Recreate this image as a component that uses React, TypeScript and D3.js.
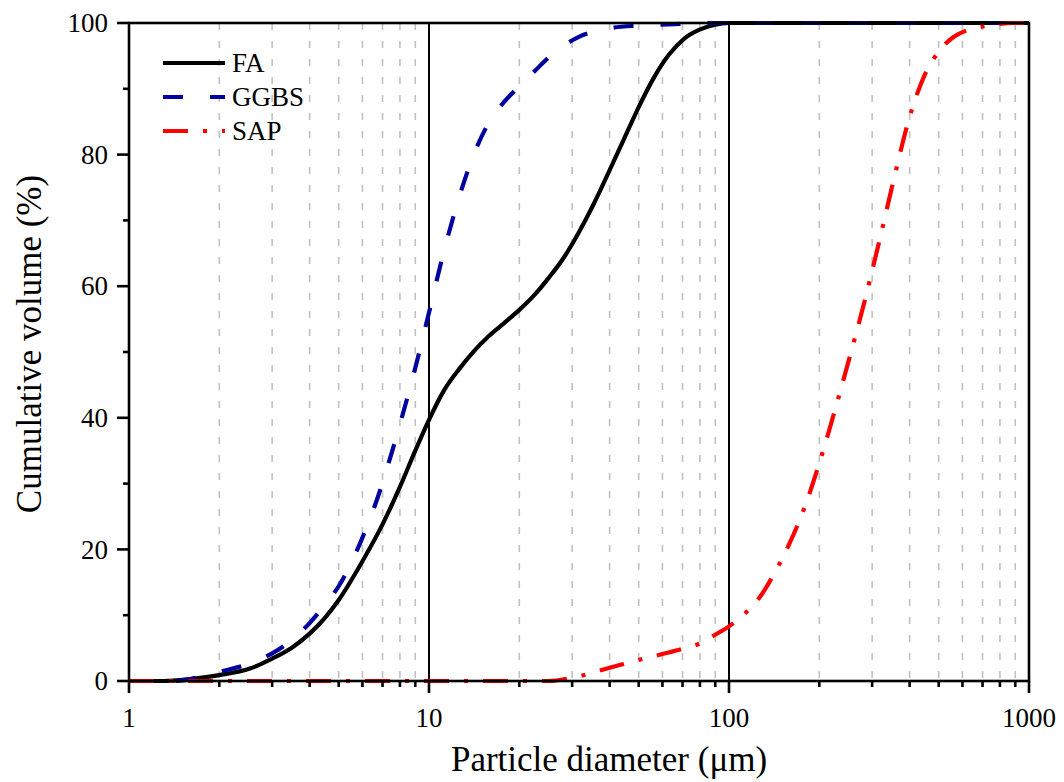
import React from "react";
import * as d3 from "d3";

const faX = [1, 1.3, 1.6, 2, 2.53, 3, 3.5, 4, 4.5, 5, 6, 7, 8, 9, 10, 11.2, 12.6, 14.1, 15.8, 17.8, 20, 22.4, 25.1, 28.2, 31.6, 35.5, 39.8, 44.7, 50.1, 56.2, 63.1, 70.8, 79.4, 89.1, 100, 1000];
const faY = [0, 0, 0.3, 0.9, 1.9, 3.4, 5.1, 7.2, 9.6, 12.3, 18.2, 23.8, 29.5, 35.0, 39.7, 44.1, 47.4, 50.1, 52.4, 54.4, 56.4, 58.6, 61.3, 64.4, 68.2, 72.6, 77.4, 82.4, 87.3, 91.7, 95.2, 97.6, 98.95, 99.7, 100, 100];

const ggbsX = [1, 1.4, 2, 2.5, 3, 3.5, 4, 4.5, 5, 5.9, 6.7, 7.5, 7.94, 8.91, 10, 11.2, 12.6, 14.1, 15.8, 17.8, 20, 22.4, 25.1, 28.2, 31.6, 35.5, 39.8, 50.1, 63.1, 100, 1000];
const ggbsY = [0, 0, 1.4, 2.6, 4.2, 6.3, 8.8, 11.6, 14.4, 21, 27.5, 34.6, 38.5, 46.8, 56, 65.2, 73.5, 80, 84.8, 88, 90.4, 92.6, 94.8, 96.6, 97.9, 98.7, 99.2, 99.6, 99.8, 100, 100];

const sapX = [1, 25, 30, 40, 50, 60, 70, 80, 89.6, 100, 112, 126, 141, 158, 178, 200, 224, 251, 282, 316, 355, 398, 447, 501, 562, 631, 708, 794, 891, 1000];
const sapY = [0, 0, 0.5, 2, 3.2, 4.1, 4.9, 5.7, 7, 8.3, 10.1, 12.6, 16.2, 20.6, 26.2, 33.1, 40.7, 48.8, 57.4, 66.6, 76.4, 85.4, 91.9, 95.7, 97.9, 99.0, 99.5, 99.85, 100, 100];

const seriesNames = ["FA", "GGBS", "SAP"];
const xMajorTicks = [1, 10, 100, 1000];
const yMajorTicks = [0, 20, 40, 60, 80, 100];
const yMinorTicks = [10, 30, 50, 70, 90];

const W = 1064, H = 782;
const L = 129, R = 1029, T = 23, B = 681;
const FF = '"Liberation Serif", Tinos, "Times New Roman", Times';
const css = `text { font-family: "Liberation Serif", Tinos, "Times New Roman", Times !important; }`;

function Txt(props: any) {
  return <text fill="#000" fontFamily="Liberation Serif" style={{ fontFamily: FF }} {...props} />;
}

export default function App() {
  const x = d3.scaleLog().domain([1, 1000]).range([L, R]);
  const y = d3.scaleLinear().domain([0, 100]).range([B, T]);

  const minorX: number[] = [];
  for (const dec of [1, 10, 100]) for (let k = 2; k <= 9; k++) minorX.push(dec * k);

  const line = d3
    .line<[number, number]>()
    .x((d) => x(d[0]))
    .y((d) => y(d[1]))
    .curve(d3.curveMonotoneX);

  const series = [
    { name: seriesNames[0], xs: faX, ys: faY, color: "#000000", dash: "none" },
    { name: seriesNames[1], xs: ggbsX, ys: ggbsY, color: "#0000A0", dash: "20 27" },
    { name: seriesNames[2], xs: sapX, ys: sapY, color: "#FF0000", dash: "25 15 4 15" },
  ];

  return (
    <svg width={W} height={H} style={{ position: "absolute", left: 0, top: 0, background: "#fff" }}>
      <style>{css}</style>
      <defs>
        <clipPath id="plotclip">
          <rect x={L} y={T - 3} width={R - L} height={B - T + 6} />
        </clipPath>
      </defs>
      {minorX.map((v) => (
        <line key={"g" + v} x1={x(v)} x2={x(v)} y1={T} y2={B} stroke="#c0c0c0" strokeWidth={1.6} strokeDasharray="7 11" />
      ))}
      {[10, 100].map((v) => (
        <line key={"mg" + v} x1={x(v)} x2={x(v)} y1={T} y2={B} stroke="#000" strokeWidth={2} />
      ))}
      <g clipPath="url(#plotclip)">
        {series.map((s) => (
          <path
            key={s.name}
            d={line(s.xs.map((v, i) => [v, s.ys[i]] as [number, number])) || ""}
            fill="none"
            stroke={s.color}
            strokeWidth={4.2}
            strokeDasharray={s.dash}
          />
        ))}
      </g>
      <rect x={L} y={T} width={R - L} height={B - T} fill="none" stroke="#000" strokeWidth={2.6} />
      {xMajorTicks.map((v) => (
        <g key={"xt" + v}>
          <line x1={x(v)} x2={x(v)} y1={B} y2={B + 12} stroke="#000" strokeWidth={2.6} />
          <Txt x={x(v)} y={727} textAnchor="middle" fontSize={27}>{v}</Txt>
        </g>
      ))}
      {minorX.map((v) => (
        <line key={"xm" + v} x1={x(v)} x2={x(v)} y1={B} y2={B + 6} stroke="#000" strokeWidth={2.6} />
      ))}
      {yMajorTicks.map((v) => (
        <g key={"yt" + v}>
          <line x1={L - 12} x2={L} y1={y(v)} y2={y(v)} stroke="#000" strokeWidth={2.6} />
          <Txt x={L - 21} y={y(v)} dy="0.34em" textAnchor="end" fontSize={27}>{v}</Txt>
        </g>
      ))}
      {yMinorTicks.map((v) => (
        <line key={"ym" + v} x1={L - 6} x2={L} y1={y(v)} y2={y(v)} stroke="#000" strokeWidth={2.6} />
      ))}
      <Txt x={609} y={771} textAnchor="middle" fontSize={35}>
        Particle diameter (μm)
      </Txt>
      <Txt transform={`translate(41, 344) rotate(-90)`} textAnchor="middle" fontSize={35}>
        Cumulative volume (%)
      </Txt>
      {series.map((s, i) => (
        <g key={"lg" + s.name}>
          <line x1={163} x2={225} y1={63 + i * 34} y2={63 + i * 34} stroke={s.color} strokeWidth={4.2} strokeDasharray={s.dash} />
          <Txt x={232} y={63 + i * 34} dy="0.34em" fontSize={27}>{s.name}</Txt>
        </g>
      ))}
    </svg>
  );
}
